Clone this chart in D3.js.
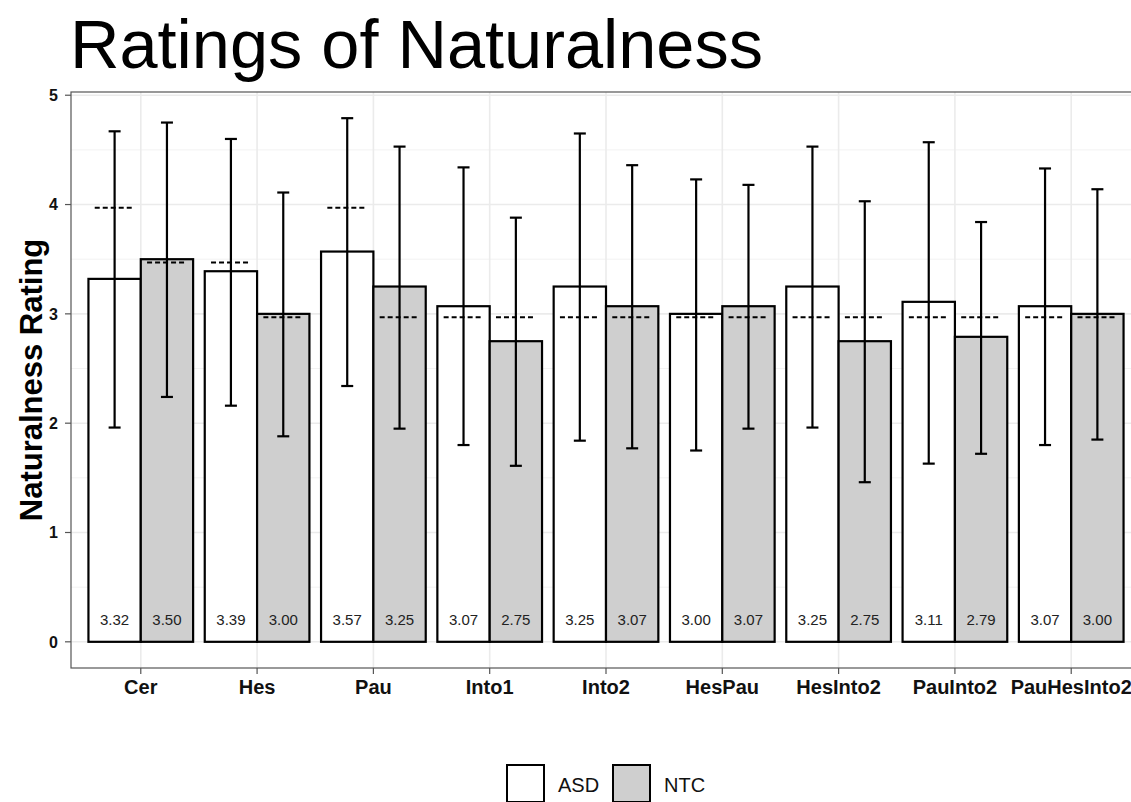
<!DOCTYPE html>
<html lang="en">
<head>
  <meta charset="UTF-8" />
  <title>Ratings of Naturalness</title>
  <script src="https://d3js.org/d3.v7.min.js"></script>
  <style>
    body {
      margin: 0;
      background: #fff;
      font-family: "Liberation Sans", Arial, sans-serif;
    }
    svg { display: block; }
  </style>
</head>
<body>
  <svg width="1131" height="802"></svg>

  <script>
    const categories = ['Cer', 'Hes', 'Pau', 'Into1', 'Into2', 'HesPau', 'HesInto2', 'PauInto2', 'PauHesInto2'];
    const groups = ['ASD', 'NTC'];

    const asdMean   = [3.32, 3.39, 3.57, 3.07, 3.25, 3.00, 3.25, 3.11, 3.07];
    const ntcMean   = [3.50, 3.00, 3.25, 2.75, 3.07, 3.07, 2.75, 2.79, 3.00];
    const asdUpper  = [4.67, 4.60, 4.79, 4.34, 4.65, 4.23, 4.53, 4.57, 4.33];
    const asdLower  = [1.96, 2.16, 2.34, 1.80, 1.84, 1.75, 1.96, 1.63, 1.80];
    const ntcUpper  = [4.75, 4.11, 4.53, 3.88, 4.36, 4.18, 4.03, 3.84, 4.14];
    const ntcLower  = [2.24, 1.88, 1.95, 1.61, 1.77, 1.95, 1.46, 1.72, 1.85];
    const asdMedian = [3.97, 3.47, 3.97, 2.97, 2.97, 2.97, 2.97, 2.97, 2.97];
    const ntcMedian = [3.47, 2.97, 2.97, 2.97, 2.97, 2.97, 2.97, 2.97, 2.97];
    const yTicks = [0, 1, 2, 3, 4, 5];

    const fills = { ASD: '#ffffff', NTC: '#cfcfcf' };

    const rows = [];
    categories.forEach((c, i) => {
      rows.push({ cat: c, i, group: 'ASD', mean: asdMean[i], lo: asdLower[i], hi: asdUpper[i], med: asdMedian[i] });
      rows.push({ cat: c, i, group: 'NTC', mean: ntcMean[i], lo: ntcLower[i], hi: ntcUpper[i], med: ntcMedian[i] });
    });

    const panel = { left: 71, top: 92, right: 1141, bottom: 668 };

    // discrete positions 1..n with ggplot-like 0.6 expansion
    const x = d3.scaleLinear()
      .domain([0.4, categories.length + 0.6])
      .range([panel.left, panel.right]);
    const y = d3.scaleLinear()
      .domain([-0.2395, 5.0295])
      .range([panel.bottom, panel.top]);

    const dodge = 0.45;
    const barX0 = d => d.group === 'ASD' ? x(d.i + 1 - dodge) : x(d.i + 1);
    const barW = x(1 + dodge) - x(1);
    const barMid = d => barX0(d) + barW / 2;

    const svg = d3.select('svg');

    // title
    svg.append('text')
      .attr('x', 70)
      .attr('y', 68)
      .attr('font-size', 68.5)
      .attr('fill', '#000')
      .text('Ratings of Naturalness');

    svg.append('defs').append('clipPath').attr('id', 'clip')
      .append('rect')
      .attr('x', panel.left).attr('y', panel.top)
      .attr('width', panel.right - panel.left).attr('height', panel.bottom - panel.top);

    // grid
    const grid = svg.append('g');
    d3.range(0.5, 5, 1).forEach(v => {
      grid.append('line')
        .attr('x1', panel.left).attr('x2', panel.right)
        .attr('y1', y(v)).attr('y2', y(v))
        .attr('stroke', '#f2f2f2').attr('stroke-width', 1);
    });
    yTicks.forEach(v => {
      grid.append('line')
        .attr('x1', panel.left).attr('x2', panel.right)
        .attr('y1', y(v)).attr('y2', y(v))
        .attr('stroke', '#ebebeb').attr('stroke-width', 1.6);
    });
    categories.forEach((c, i) => {
      grid.append('line')
        .attr('x1', x(i + 1)).attr('x2', x(i + 1))
        .attr('y1', panel.top).attr('y2', panel.bottom)
        .attr('stroke', '#ebebeb').attr('stroke-width', 1.6);
    });

    const plot = svg.append('g').attr('clip-path', 'url(#clip)');

    // bars
    plot.selectAll('rect.bar')
      .data(rows)
      .enter()
      .append('rect')
      .attr('class', 'bar')
      .attr('x', barX0)
      .attr('y', d => y(d.mean))
      .attr('width', barW)
      .attr('height', d => y(0) - y(d.mean))
      .attr('fill', d => fills[d.group])
      .attr('stroke', '#000')
      .attr('stroke-width', 2.2);

    // median dashed lines
    const medHalf = barW * 0.38;
    plot.selectAll('line.med')
      .data(rows)
      .enter()
      .append('line')
      .attr('x1', d => barMid(d) - medHalf)
      .attr('x2', d => barMid(d) + medHalf)
      .attr('y1', d => y(d.med))
      .attr('y2', d => y(d.med))
      .attr('stroke', '#000')
      .attr('stroke-width', 2)
      .attr('stroke-dasharray', '5,3');

    // error bars
    const capHalf = 6;
    const eb = plot.selectAll('g.eb')
      .data(rows)
      .enter()
      .append('g');
    eb.append('line')
      .attr('x1', barMid).attr('x2', barMid)
      .attr('y1', d => y(d.lo)).attr('y2', d => y(d.hi))
      .attr('stroke', '#000').attr('stroke-width', 2.2);
    eb.append('line')
      .attr('x1', d => barMid(d) - capHalf).attr('x2', d => barMid(d) + capHalf)
      .attr('y1', d => y(d.hi)).attr('y2', d => y(d.hi))
      .attr('stroke', '#000').attr('stroke-width', 2.2);
    eb.append('line')
      .attr('x1', d => barMid(d) - capHalf).attr('x2', d => barMid(d) + capHalf)
      .attr('y1', d => y(d.lo)).attr('y2', d => y(d.lo))
      .attr('stroke', '#000').attr('stroke-width', 2.2);

    // value labels
    plot.selectAll('text.val')
      .data(rows)
      .enter()
      .append('text')
      .attr('x', barMid)
      .attr('y', y(0.2))
      .attr('dy', '0.35em')
      .attr('text-anchor', 'middle')
      .attr('font-size', 15)
      .attr('fill', '#222')
      .text(d => d.mean.toFixed(2));

    // panel border
    svg.append('rect')
      .attr('x', panel.left).attr('y', panel.top)
      .attr('width', panel.right - panel.left).attr('height', panel.bottom - panel.top)
      .attr('fill', 'none')
      .attr('stroke', '#555')
      .attr('stroke-width', 1.2);

    // y axis
    const yAxis = svg.append('g');
    yTicks.forEach(v => {
      yAxis.append('line')
        .attr('x1', panel.left - 6).attr('x2', panel.left)
        .attr('y1', y(v)).attr('y2', y(v))
        .attr('stroke', '#555').attr('stroke-width', 1.2);
      yAxis.append('text')
        .attr('x', panel.left - 13)
        .attr('y', y(v))
        .attr('dy', '0.36em')
        .attr('text-anchor', 'end')
        .attr('font-size', 16)
        .attr('font-weight', 'bold')
        .attr('fill', '#111')
        .text(v);
    });

    // x axis
    const xAxis = svg.append('g');
    categories.forEach((c, i) => {
      xAxis.append('line')
        .attr('x1', x(i + 1)).attr('x2', x(i + 1))
        .attr('y1', panel.bottom).attr('y2', panel.bottom + 6)
        .attr('stroke', '#555').attr('stroke-width', 1.2);
      xAxis.append('text')
        .attr('x', x(i + 1))
        .attr('y', 694)
        .attr('text-anchor', 'middle')
        .attr('font-size', 20)
        .attr('font-weight', 'bold')
        .attr('fill', '#111')
        .text(c);
    });

    // y title
    svg.append('text')
      .attr('transform', `translate(42,${(panel.top + panel.bottom) / 2}) rotate(-90)`)
      .attr('text-anchor', 'middle')
      .attr('font-size', 31)
      .attr('font-weight', 'bold')
      .attr('fill', '#000')
      .text('Naturalness Rating');

    // legend
    const legend = svg.append('g');
    const legX = [507, 613];
    groups.forEach((g, k) => {
      legend.append('rect')
        .attr('x', legX[k]).attr('y', 765)
        .attr('width', 37).attr('height', 37)
        .attr('fill', fills[g])
        .attr('stroke', '#000')
        .attr('stroke-width', 2);
      legend.append('text')
        .attr('x', legX[k] + 51)
        .attr('y', 785)
        .attr('dy', '0.35em')
        .attr('font-size', 20)
        .attr('fill', '#111')
        .text(g);
    });
  </script>
</body>
</html>
